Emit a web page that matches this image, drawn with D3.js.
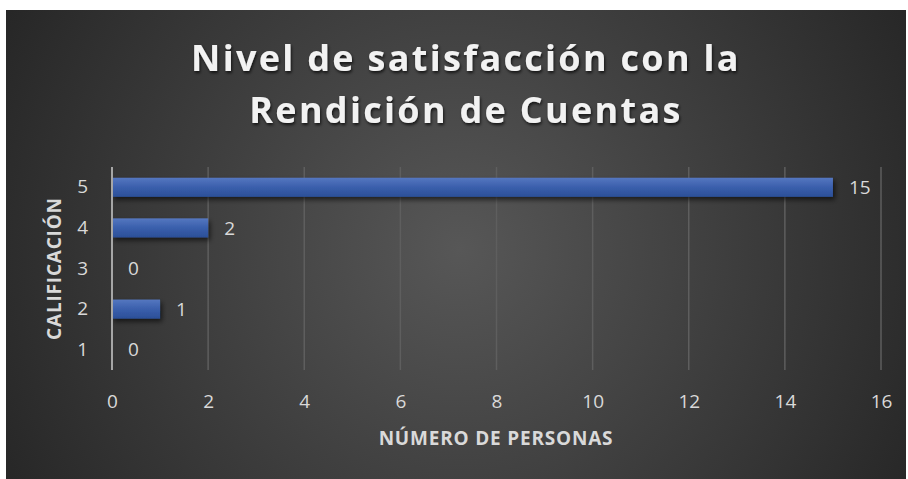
<!DOCTYPE html>
<html>
<head>
<meta charset="utf-8">
<script src="https://cdn.jsdelivr.net/npm/d3@7"></script>
<style>
  body { margin: 0; background: #fff; }
  svg { display: block; }
  text { font-family: "Open Sans", "Noto Sans", sans-serif; }
</style>
</head>
<body>
<div class="chart"></div>
<script>

// Chart data
var categories = ["1", "2", "3", "4", "5"];
var values = [0, 1, 0, 2, 15];
var xTicks = [0, 2, 4, 6, 8, 10, 12, 14, 16];
var titleLines = ["Nivel de satisfacción con la", "Rendición de Cuentas"];
var xTitle = "NÚMERO DE PERSONAS";
var yTitle = "CALIFICACIÓN";

var width = 908, height = 479;
var margin = { top: 167, right: 27, bottom: 109, left: 112 };
var plotW = width - margin.left - margin.right;
var plotH = height - margin.top - margin.bottom;

var svg = d3.select(".chart")
    .append("svg")
        .attr("width", width)
        .attr("height", height);

var defs = svg.append("defs");

// Background radial gradient
var bg = defs.append("radialGradient")
    .attr("id", "bg")
    .attr("gradientUnits", "userSpaceOnUse")
    .attr("cx", 460).attr("cy", 250).attr("r", 520);
bg.append("stop").attr("offset", "0%").attr("stop-color", "#575757");
bg.append("stop").attr("offset", "100%").attr("stop-color", "#262626");

// Bar gradient
var barGrad = defs.append("linearGradient")
    .attr("id", "barGrad")
    .attr("x1", 0).attr("y1", 0).attr("x2", 0).attr("y2", 1);
barGrad.append("stop").attr("offset", "0%").attr("stop-color", "#5577c0");
barGrad.append("stop").attr("offset", "50%").attr("stop-color", "#3a5fac");
barGrad.append("stop").attr("offset", "100%").attr("stop-color", "#2b4f98");

var shadow = defs.append("filter").attr("id", "shadow")
    .attr("x", "-10%").attr("y", "-50%").attr("width", "130%").attr("height", "220%");
shadow.append("feDropShadow")
    .attr("dx", 2).attr("dy", 3).attr("stdDeviation", 2.5)
    .attr("flood-color", "#000").attr("flood-opacity", 0.6);

var tshadow = defs.append("filter").attr("id", "tshadow");
tshadow.append("feDropShadow")
    .attr("dx", 1).attr("dy", 2).attr("stdDeviation", 1.5)
    .attr("flood-color", "#000").attr("flood-opacity", 0.7);

svg.append("rect")
    .attr("x", 6).attr("y", 10)
    .attr("width", 900).attr("height", 469)
    .attr("fill", "url(#bg)");

// Title
svg.append("g")
    .attr("filter", "url(#tshadow)")
    .selectAll("text")
    .data(titleLines)
    .enter().append("text")
        .attr("x", 466)
        .attr("y", function(d, i) { return 71 + i * 52; })
        .attr("text-anchor", "middle")
        .attr("font-size", 36)
        .attr("font-weight", "bold")
        .attr("letter-spacing", 2.3)
        .attr("fill", "#f2f2f2")
        .text(function(d) { return d; });

var g = svg.append("g")
    .attr("transform", "translate(" + margin.left + "," + margin.top + ")");

// Scales
var x = d3.scaleLinear()
    .domain([0, 16])
    .range([0, plotW]);

var y = d3.scaleBand()
    .domain(categories.slice().reverse())
    .range([0, plotH])
    .paddingInner(0.53)
    .paddingOuter(0.265);

// Gridlines
g.selectAll(".grid")
    .data(xTicks.slice(1))
    .enter().append("line")
        .attr("class", "grid")
        .attr("x1", function(d) { return x(d); })
        .attr("x2", function(d) { return x(d); })
        .attr("y1", 0)
        .attr("y2", plotH)
        .attr("stroke", "#5e5e5e")
        .attr("stroke-width", 1.5);

// X axis labels
var xAxis = d3.axisBottom(x).tickValues(xTicks).tickSize(0).tickPadding(25);
g.append("g")
    .attr("class", "xAxis")
    .attr("transform", "translate(0," + plotH + ")")
    .call(xAxis)
    .call(function(s) { s.select(".domain").remove(); })
    .selectAll("text")
        .attr("font-size", 19)
        .attr("fill", "#d9d9d9");

// Y axis
var yAxis = d3.axisLeft(y).tickSize(0).tickPadding(24);
g.append("g")
    .attr("class", "yAxis")
    .call(yAxis)
    .call(function(s) { s.select(".domain").remove(); })
    .selectAll("text")
        .attr("font-size", 19)
        .attr("fill", "#d9d9d9");

// Bars
g.selectAll(".bar")
    .data(values)
    .enter().append("rect")
        .attr("class", "bar")
        .attr("x", 0)
        .attr("y", function(d, i) { return y(categories[i]); })
        .attr("width", function(d) { return x(d); })
        .attr("height", y.bandwidth())
        .attr("fill", "url(#barGrad)")
        .attr("filter", "url(#shadow)");

g.append("line")
    .attr("x1", 0).attr("x2", 0)
    .attr("y1", 0).attr("y2", plotH)
    .attr("stroke", "#a6a6a6")
    .attr("stroke-width", 2);

// Data labels
g.selectAll(".label")
    .data(values)
    .enter().append("text")
        .attr("class", "label")
        .attr("x", function(d) { return x(d) + 16; })
        .attr("y", function(d, i) { return y(categories[i]) + y.bandwidth() / 2; })
        .attr("dy", "0.35em")
        .attr("font-size", 19)
        .attr("fill", "#d9d9d9")
        .text(function(d) { return d; });

// Axis titles
svg.append("text")
    .attr("x", 496)
    .attr("y", 445)
    .attr("text-anchor", "middle")
    .attr("font-size", 19)
    .attr("font-weight", "bold")
    .attr("letter-spacing", 0.8)
    .attr("fill", "#d9d9d9")
    .text(xTitle);

svg.append("text")
    .attr("transform", "translate(61," + (margin.top + plotH / 2) + ") rotate(-90)")
    .attr("text-anchor", "middle")
    .attr("font-size", 19)
    .attr("font-weight", "bold")
    .attr("letter-spacing", 0.8)
    .attr("fill", "#d9d9d9")
    .text(yTitle);

</script>
</body>
</html>
